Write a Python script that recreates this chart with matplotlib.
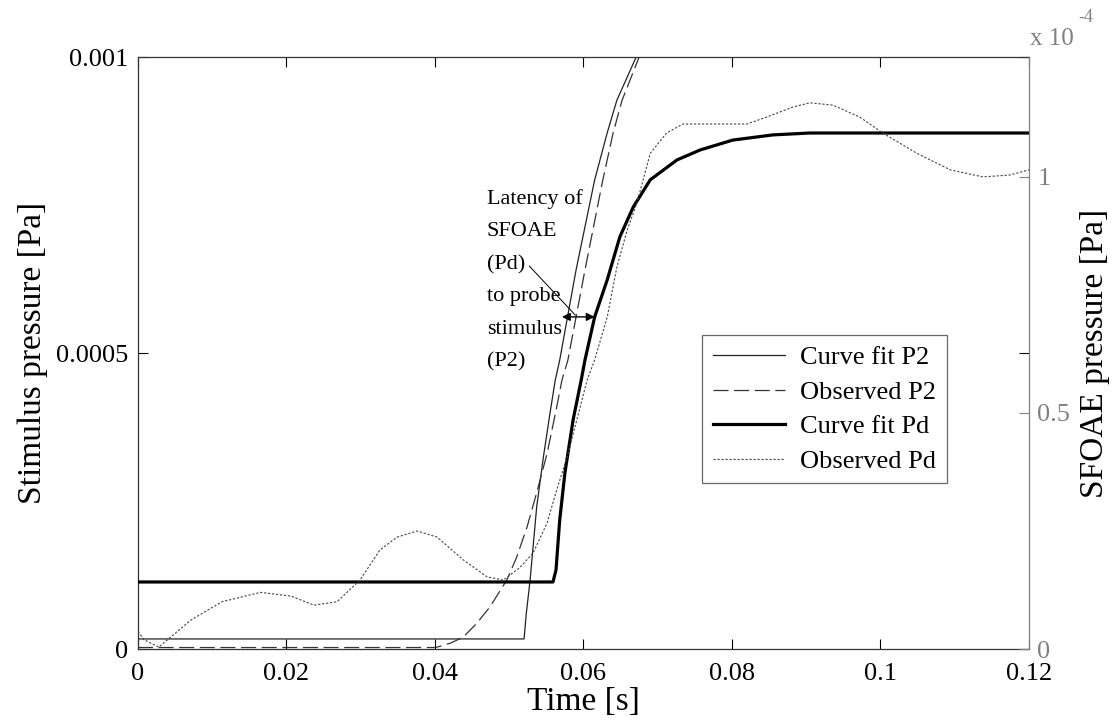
import numpy as np
import matplotlib
matplotlib.use('Agg')
import matplotlib.pyplot as plt

plt.rcParams['font.family'] = ['Liberation Serif', 'DejaVu Serif']

# Curve fit P2 (left axis, Pa)
t_fit_p2 = [0, 0.0520, 0.0523, 0.0528, 0.0537, 0.0546, 0.0555, 0.0562, 0.0568, 0.0590,
            0.0615, 0.0632, 0.0645, 0.0671, 0.0690]
p_fit_p2 = [1.7e-5, 1.7e-5, 6e-5, 1.15e-4, 2.4e-4, 3.24e-4, 3.99e-4, 4.54e-4, 4.88e-4, 6.4e-4,
            7.92e-4, 8.72e-4, 9.27e-4, 1.0e-3, 1.05e-3]

# Observed P2 (left axis, Pa)
t_obs_p2 = [0, 0.0401, 0.0421, 0.0438, 0.0456, 0.0474, 0.0497, 0.0510, 0.0524, 0.0537,
            0.0551, 0.0564, 0.0571, 0.0579, 0.0602, 0.0626, 0.0640, 0.0652, 0.0675, 0.0690]
p_obs_p2 = [2.5e-6, 2.5e-6, 1.0e-5, 2.0e-5, 4.3e-5, 7.1e-5, 1.17e-4, 1.55e-4, 2.06e-4, 2.64e-4,
            3.30e-4, 4.09e-4, 4.54e-4, 4.88e-4, 6.4e-4, 7.92e-4, 8.72e-4, 9.27e-4, 1.0e-3, 1.04e-3]

# Curve fit Pd (right axis, x 1e-4 Pa)
t_fit_pd = [0, 0.0559, 0.0561, 0.0563, 0.0568, 0.0575, 0.0586, 0.0597, 0.0602, 0.0615,
            0.0632, 0.0649, 0.0667, 0.0690, 0.0726, 0.0757, 0.0801, 0.0855, 0.0905, 0.12]
p_fit_pd = [0.142, 0.142, 0.155, 0.167, 0.273, 0.373, 0.485, 0.57, 0.612, 0.703,
            0.782, 0.873, 0.936, 0.994, 1.036, 1.057, 1.078, 1.089, 1.093, 1.093]

# Observed Pd (right axis, x 1e-4 Pa)
t_obs_pd = [0, 0.0008, 0.0028, 0.0071, 0.0113, 0.0165, 0.0206, 0.0237, 0.0268, 0.0299,
            0.0326, 0.0349, 0.0376, 0.0403, 0.0438, 0.0470, 0.0492, 0.0514, 0.0532, 0.0551,
            0.0564, 0.0578, 0.0591, 0.0605, 0.0615, 0.0632, 0.0645, 0.0659, 0.0672, 0.0690,
            0.0712, 0.0734, 0.0780, 0.0820, 0.0847, 0.0882, 0.0905, 0.0936, 0.0972, 0.1003,
            0.1049, 0.1094, 0.1138, 0.1174, 0.12]
p_obs_pd = [0.037, 0.02, 0.004, 0.061, 0.10, 0.12, 0.112, 0.093, 0.10, 0.146,
            0.21, 0.237, 0.25, 0.237, 0.189, 0.153, 0.146, 0.172, 0.203, 0.267,
            0.337, 0.407, 0.485, 0.57, 0.612, 0.703, 0.809, 0.888, 0.945, 1.05,
            1.093, 1.112, 1.112, 1.112, 1.127, 1.148, 1.157, 1.152, 1.127, 1.093,
            1.05, 1.015, 1.0, 1.004, 1.015]

x_ticks = [0, 0.02, 0.04, 0.06, 0.08, 0.1, 0.12]
x_tick_labels = ['0', '0.02', '0.04', '0.06', '0.08', '0.1', '0.12']
left_ticks = [0, 0.0005, 0.001]
left_tick_labels = ['0', '0.0005', '0.001']
right_ticks = [0, 0.5, 1]
right_tick_labels = ['0', '0.5', '1']

# latency marker (start/end time, level on left axis)
latency_t = [0.0571, 0.0615]
latency_p = 5.61e-4

fig = plt.figure(figsize=(11.17, 7.28), dpi=100)
ax1 = fig.add_axes([0.1235, 0.1085, 0.7977, 0.8132])
ax2 = ax1.twinx()

fs = 19
fs_label = 24
gray = '#808080'

# left axis curves
l1, = ax1.plot(t_fit_p2, p_fit_p2, color='#222222', lw=0.9, label='Curve fit P2')
l2, = ax1.plot(t_obs_p2, p_obs_p2, color='#333333', lw=0.9, dashes=(12, 4.5), label='Observed P2')

# right axis curves
l3, = ax2.plot(t_fit_pd, p_fit_pd, color='black', lw=2.3, label='Curve fit Pd')
l4, = ax2.plot(t_obs_pd, p_obs_pd, color='#444444', lw=0.8, dashes=(2, 1.6), label='Observed Pd')

ax1.set_xlim(0, 0.12)
ax1.set_ylim(0, 0.001)
ax2.set_ylim(0, 1.254)

ax1.set_xticks(x_ticks)
ax1.set_xticklabels(x_tick_labels)
ax1.set_yticks(left_ticks)
ax1.set_yticklabels(left_tick_labels)
ax2.set_yticks(right_ticks)
ax2.set_yticklabels(right_tick_labels)

ax1.tick_params(axis='both', direction='in', length=7, width=0.8, labelsize=fs,
                top=True, right=True, color='black')
ax1.tick_params(axis='x', pad=10)
ax1.tick_params(axis='y', pad=7)
ax2.tick_params(axis='y', direction='in', length=7, width=0.8, labelsize=fs,
                colors=gray, pad=6)

for s in ['left', 'bottom', 'top']:
    ax1.spines[s].set_color('#333333')
    ax1.spines[s].set_linewidth(0.9)
ax1.spines['right'].set_visible(False)
for s in ['left', 'bottom', 'top']:
    ax2.spines[s].set_visible(False)
ax2.spines['right'].set_color(gray)
ax2.spines['right'].set_linewidth(0.9)

ax1.set_xlabel('Time [s]', fontsize=fs_label, labelpad=1)
ax1.set_ylabel('Stimulus pressure [Pa]', fontsize=fs_label, labelpad=6)
ax2.set_ylabel('SFOAE pressure [Pa]', fontsize=fs_label, labelpad=7)

# exponent for right axis
ax2.text(1.001, 1.031, 'x 10', transform=ax2.transAxes, fontsize=18, color=gray,
         ha='left', va='center')
ax2.text(1.055, 1.066, '-4', transform=ax2.transAxes, fontsize=13, color=gray,
         ha='left', va='center')

# latency annotation
ax1.annotate('', xy=(latency_t[0], latency_p), xytext=(latency_t[1], latency_p),
             arrowprops=dict(arrowstyle='<|-|>', color='black', lw=1.0,
                             mutation_scale=12, shrinkA=0, shrinkB=0))
ax1.annotate('', xy=(0.0589, 5.64e-4), xytext=(0.0527, 6.47e-4),
             arrowprops=dict(arrowstyle='-', color='black', lw=0.7, shrinkA=0, shrinkB=0))
ax1.text(0.0470, 7.77e-4, 'Latency of\nSFOAE\n(Pd)\nto probe\nstimulus\n(P2)',
         fontsize=16, ha='left', va='top', linespacing=1.95)

leg = ax2.legend(handles=[l1, l2, l3, l4], loc='upper left', bbox_to_anchor=(0.633, 0.530),
                 borderaxespad=0, fontsize=fs, frameon=True, fancybox=False,
                 handlelength=2.75, handletextpad=0.57, labelspacing=0.42, borderpad=0.4)
leg.get_frame().set_edgecolor('#444444')
leg.get_frame().set_linewidth(0.9)

fig.savefig('out.png', dpi=100)
